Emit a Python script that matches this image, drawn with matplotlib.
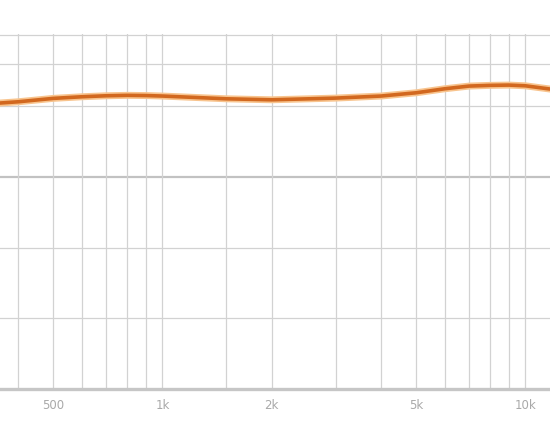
import numpy as np
import matplotlib
matplotlib.use('Agg')
import matplotlib.pyplot as plt
from matplotlib.ticker import FixedLocator, NullFormatter

# response curve (Hz, dB)
freq = [356, 400, 500, 600, 700, 800, 900, 1000, 1500, 2000,
        3000, 4000, 5000, 6000, 7000, 8000, 9000, 10000, 11700]
level = [10.42, 10.60, 11.08, 11.31, 11.45, 11.51, 11.48, 11.41, 11.02, 10.88,
         11.12, 11.41, 11.87, 12.44, 12.82, 12.92, 12.96, 12.86, 12.40]

major_f = [500, 1000, 2000, 5000, 10000]
major_lab = ['500', '1k', '2k', '5k', '10k']
minor_f = [400, 600, 700, 800, 900, 1500, 3000, 4000, 6000, 7000, 8000, 9000]
y_lines = [-20, -10, 10, 16, 20]

fig = plt.figure(figsize=(5.5, 4.45), dpi=100)
ax = fig.add_axes([0, 0.1258, 1, 0.797])
ax.set_xscale('log')
ax.set_xlim(356.5, 11700)
ax.set_ylim(-30, 20.13)

for s in ax.spines.values():
    s.set_visible(False)

ax.xaxis.set_major_locator(FixedLocator(major_f))
ax.xaxis.set_minor_locator(FixedLocator(minor_f))
ax.xaxis.set_minor_formatter(NullFormatter())
ax.set_xticklabels(major_lab)
ax.set_yticks([])
ax.tick_params(axis='x', which='both', length=0, pad=7, labelsize=8.5, labelcolor='#a9a9a9')
for lab in ax.get_xticklabels():
    lab.set_family(['Liberation Sans Narrow', 'DejaVu Sans'])

ax.grid(True, axis='x', which='both', color='#d2d2d2', lw=0.9)
for y in y_lines:
    ax.axhline(y, color='#d2d2d2', lw=0.9, clip_on=False, zorder=1)
ax.axhline(0, color='#c2c2c2', lw=1.6, zorder=1)
ax.axhline(-30, color='#c6c6c6', lw=2.4, clip_on=False, zorder=2)

# glow + core line
ax.plot(freq, level, color='#f8c48e', lw=5.0, solid_capstyle='round', zorder=3)
ax.plot(freq, level, color='#d2681f', lw=2.6, solid_capstyle='round', zorder=4)

fig.savefig('out.png', dpi=100)
